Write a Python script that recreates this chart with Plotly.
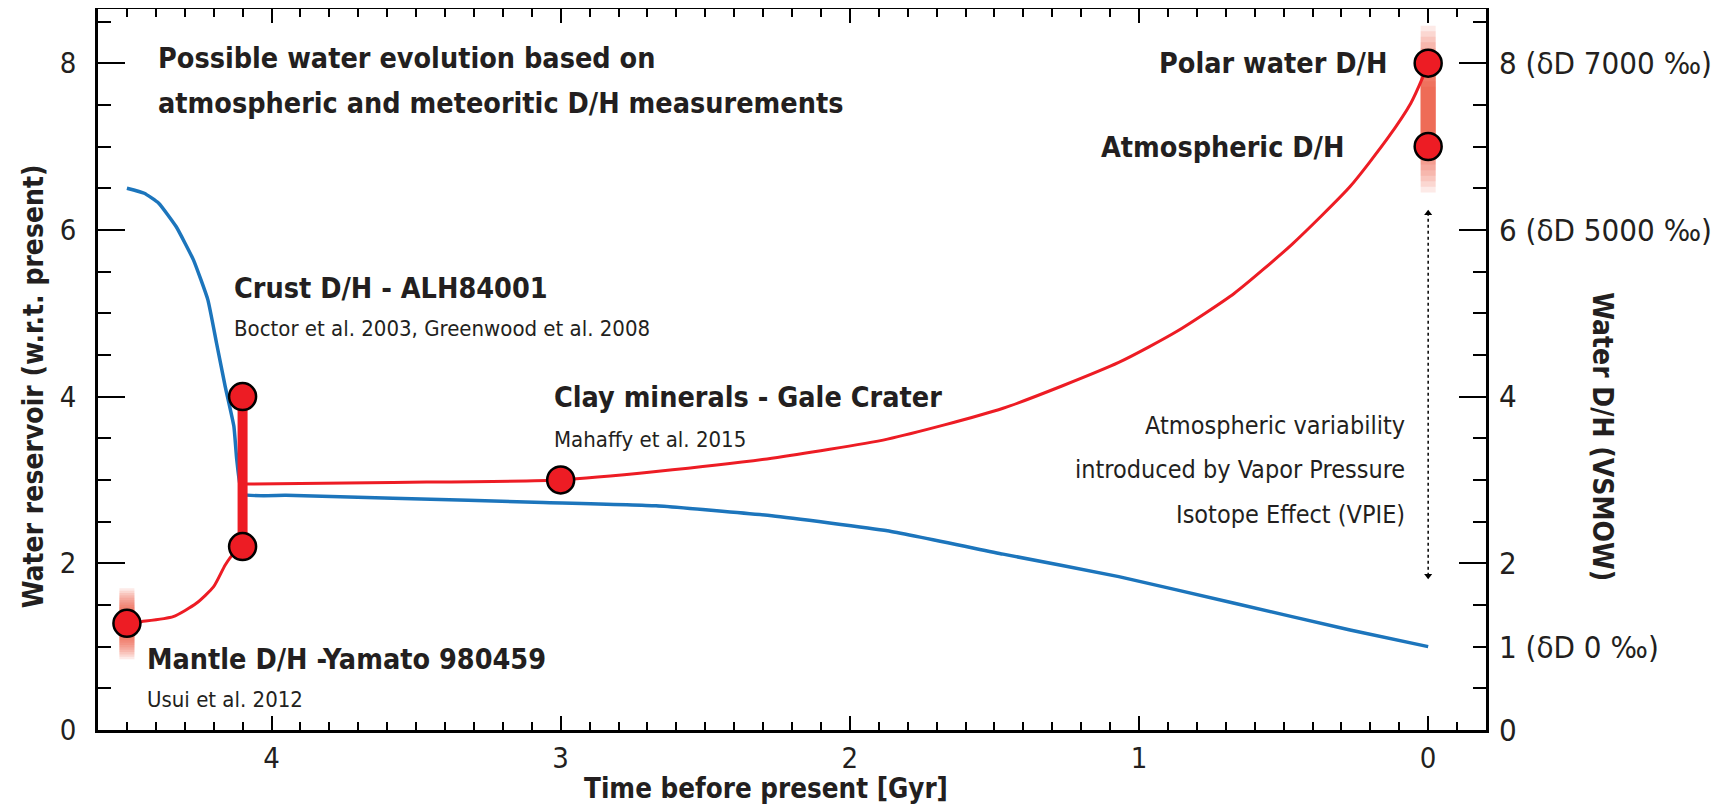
import plotly.graph_objects as go

# ---- data (time in Gyr before present) ----
# water reservoir (w.r.t. present), blue curve
reservoir_t = [4.5, 4.44, 4.39, 4.33, 4.27, 4.22, 4.19, 4.16, 4.13, 4.12, 4.1,
               3.95, 3.58, 3.06, 2.67, 2.27, 1.87, 1.47, 1.07, 0.67, 0.27, 0.0]
reservoir_v = [6.5, 6.44, 6.32, 6.04, 5.64, 5.16, 4.64, 4.12, 3.64, 3.24, 2.83,
               2.815, 2.78, 2.73, 2.69, 2.57, 2.39, 2.11, 1.84, 1.52, 1.20, 1.0]

# water D/H (VSMOW), red curve: mantle -> crust, then crust -> present
dh_early_t = [4.5, 4.45, 4.34, 4.26, 4.2, 4.16, 4.13, 4.1]
dh_early_v = [1.28, 1.30, 1.36, 1.52, 1.72, 1.98, 2.12, 2.2]
dh_late_t = [4.1, 3.58, 3.0, 2.67, 2.27, 1.87, 1.47, 1.07, 0.87, 0.67,
             0.47, 0.27, 0.14, 0.06, 0.02, 0.0]
dh_late_v = [2.95, 2.97, 3.0, 3.1, 3.26, 3.49, 3.86, 4.41, 4.78, 5.24,
             5.83, 6.52, 7.1, 7.52, 7.82, 8.0]

# measurements
sample_names = ["Mantle", "Crust low", "Crust high", "Clay", "Atmospheric", "Polar"]
sample_t = [4.5, 4.1, 4.1, 3.0, 0.0, 0.0]
sample_dh = [1.28, 2.2, 4.0, 3.0, 7.0, 8.0]

crust_t = 4.1
crust_range = [2.2, 4.0]
mantle_t = 4.5
mantle_band = [0.85, 1.7]
polar_t = 0.0
polar_band = [6.45, 8.45]
vpie_t = 0.0
vpie_range = [1.85, 6.2]

x_ticks = [4, 3, 2, 1, 0]
left_tickvals = [0, 2, 4, 6, 8]
right_tickvals = [0, 1, 2, 4, 6, 8]
right_ticktext = ["0", "1 (\u03b4D 0 \u2030)", "2", "4",
                  "6 (\u03b4D 5000 \u2030)", "8 (\u03b4D 7000 \u2030)"]

FONT = "DejaVu Sans Condensed, Liberation Sans Narrow, Roboto, sans-serif"
RED = "#ed1c24"
BLUE = "#1c75bc"
TXT = "#231f20"

fig = go.Figure()


def add_band(t, lo, hi, steps=12, width=15):
    # faded uncertainty band: stacked translucent segments, darkest in the middle
    mid = (lo + hi) / 2
    for k in range(steps):
        f = 0.8 * k / steps
        fig.add_trace(go.Scatter(
            x=[t, t], y=[lo + (mid - lo) * f, hi - (hi - mid) * f],
            mode="lines", line=dict(color="rgba(237,60,40,0.11)", width=width),
            hoverinfo="skip", yaxis="y2"))


add_band(mantle_t, mantle_band[0], mantle_band[1])
add_band(polar_t, polar_band[0], polar_band[1])

# blue reservoir curve
fig.add_trace(go.Scatter(x=reservoir_t, y=reservoir_v, mode="lines",
                         line=dict(color=BLUE, width=3.5, shape="spline", smoothing=0.4)))

# red D/H curves
fig.add_trace(go.Scatter(x=dh_early_t, y=dh_early_v, mode="lines", yaxis="y2",
                         line=dict(color=RED, width=3, shape="spline", smoothing=0.6)))
fig.add_trace(go.Scatter(x=dh_late_t, y=dh_late_v, mode="lines", yaxis="y2",
                         line=dict(color=RED, width=3, shape="spline", smoothing=0.6)))

# crust range bar
fig.add_trace(go.Scatter(x=[crust_t, crust_t], y=crust_range, mode="lines", yaxis="y2",
                         line=dict(color=RED, width=10)))

# VPIE dotted double arrow
fig.add_trace(go.Scatter(x=[vpie_t, vpie_t], y=vpie_range, mode="lines", yaxis="y2",
                         line=dict(color="black", width=1.5, dash="dot")))
fig.add_trace(go.Scatter(x=[vpie_t, vpie_t], y=vpie_range, mode="markers", yaxis="y2",
                         marker=dict(symbol=["triangle-down", "triangle-up"], size=7,
                                     color="black")))

# measurement points
fig.add_trace(go.Scatter(x=sample_t, y=sample_dh, mode="markers", yaxis="y2",
                         text=sample_names,
                         marker=dict(size=27, color=RED, line=dict(color="black", width=2.5))))

# ---- text ----
bold = dict(family=FONT, size=28.5, color=TXT)
light = dict(family=FONT, size=22, color=TXT)
vpie = dict(family=FONT, size=25, color=TXT)
notes = [
    (4.40, 8.06, "<b>Possible water evolution based on</b>", bold, "left"),
    (4.40, 7.52, "<b>atmospheric and meteoritic D/H measurements</b>", bold, "left"),
    (4.137, 5.30, "<b>Crust D/H - ALH84001</b>", bold, "left"),
    (4.137, 4.82, "Boctor et al. 2003, Greenwood et al. 2008", light, "left"),
    (3.03, 3.99, "<b>Clay minerals - Gale Crater</b>", bold, "left"),
    (3.03, 3.49, "Mahaffy et al. 2015", light, "left"),
    (4.436, 0.84, "<b>Mantle D/H -Yamato 980459</b>", bold, "left"),
    (4.436, 0.36, "Usui et al. 2012", light, "left"),
    (0.135, 8.0, "<b>Polar water D/H</b>", bold, "right"),
    (0.285, 6.99, "<b>Atmospheric D/H</b>", bold, "right"),
    (0.073, 3.65, "Atmospheric variability", vpie, "right"),
    (0.073, 3.12, "introduced by Vapor Pressure", vpie, "right"),
    (0.073, 2.59, "Isotope Effect (VPIE)", vpie, "right"),
]
for x, y, txt, f, anchor in notes:
    fig.add_annotation(x=x, y=y, text=txt, showarrow=False, font=f,
                       xanchor=anchor, yanchor="middle", xref="x", yref="y")

# axis titles
title_font = dict(family=FONT, size=28, color=TXT)
fig.add_annotation(x=-0.0463, y=0.4764, xref="paper", yref="paper", showarrow=False,
                   xanchor="center", yanchor="middle",
                   text="<b>Water reservoir (w.r.t. present)</b>", textangle=-90,
                   font=title_font)
fig.add_annotation(x=1.0838, y=0.407, xref="paper", yref="paper", showarrow=False,
                   xanchor="center", yanchor="middle",
                   text="<b>Water D/H (VSMOW)</b>", textangle=90, font=title_font)
fig.add_annotation(x=0.481, y=-0.0804, xref="paper", yref="paper", showarrow=False,
                   xanchor="center", yanchor="middle",
                   text="<b>Time before present [Gyr]</b>", font=dict(title_font, size=27.5))

# margins allow for the 8px default page margin around the plot div
tick_font = dict(family=FONT, size=29, color=TXT)
fig.update_layout(
    width=1721, height=810,
    margin=dict(l=90, r=243, t=1, b=88, autoexpand=False),
    plot_bgcolor="white", paper_bgcolor="white",
    showlegend=False,
    font=dict(family=FONT, color=TXT),
    xaxis=dict(range=[4.6, -0.2], tickvals=x_ticks, ticks="inside", ticklen=14,
               tickwidth=2, tickcolor="black", showline=True, linewidth=2.5,
               linecolor="black", mirror="ticks", showgrid=False, zeroline=False,
               minor=dict(dtick=0.1, ticks="inside", ticklen=8, tickwidth=1.5,
                          tickcolor="black", showgrid=False),
               tickfont=tick_font, ticklabelstandoff=0, automargin=False),
    yaxis=dict(range=[0, 8.65], tickvals=left_tickvals, ticks="inside", ticklen=27,
               tickwidth=2, tickcolor="black", showline=True, linewidth=2.5,
               linecolor="black", mirror="ticks", showgrid=False, zeroline=False,
               minor=dict(dtick=0.5, ticks="inside", ticklen=13, tickwidth=2,
                          tickcolor="black", showgrid=False),
               tickfont=tick_font, ticklabelstandoff=13, automargin=False),
    yaxis2=dict(range=[0, 8.65], overlaying="y", side="right",
                tickvals=right_tickvals, ticktext=right_ticktext, ticks="",
                showline=False, showgrid=False, zeroline=False,
                tickfont=dict(tick_font, size=31), ticklabelstandoff=12,
                automargin=False),
)

fig.write_html("out.html")
